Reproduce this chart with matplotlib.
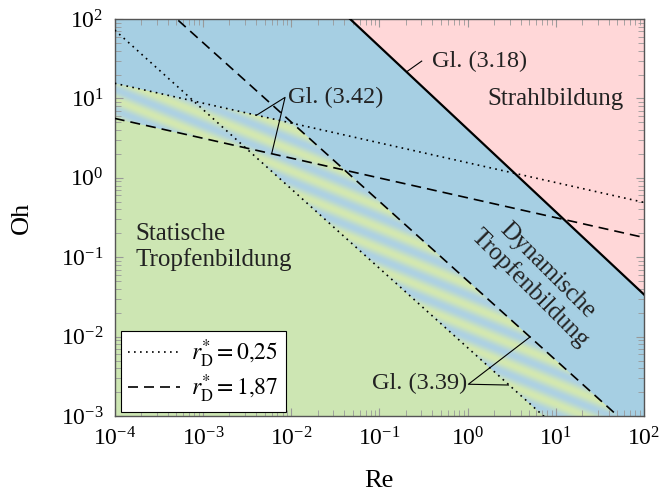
"""Regime map for drop formation: Oh over Re"""

import numpy as np
import matplotlib
matplotlib.use('Agg')
import matplotlib.pyplot as plt
from matplotlib.patches import Polygon
from matplotlib.ticker import LogLocator, NullFormatter

plt.rcParams['font.family'] = ['Liberation Serif', 'DejaVu Serif']
plt.rcParams['mathtext.fontset'] = 'stix'

# boundaries, each a power law through two points (Re, Oh)
re_ends = [1e-4, 1e2]
oh_dotted_flat = [15.5, 0.49]       # r_D* = 0,25, Gl. (3.42)
oh_dashed_flat = [5.6, 0.177]       # r_D* = 1,87, Gl. (3.42)
oh_dotted_steep = [72.6, 7.26e-5]   # r_D* = 0,25, Gl. (3.39)
oh_dashed_steep = [505.0, 5.05e-4]  # r_D* = 1,87, Gl. (3.39)
re_jet = [0.0466, 1e2]              # Gl. (3.18)
oh_jet = [100.0, 0.0339]

legend_labels = [r'$r_{\mathrm{D}}^{*} = 0{,}25$', r'$r_{\mathrm{D}}^{*} = 1{,}87$']

blue = '#a6cfe3'
green = '#cde6b3'
pink = '#ffd7d8'


def power_line(re, re_pts, oh_pts):
	k = np.log10(oh_pts[1] / oh_pts[0]) / np.log10(re_pts[1] / re_pts[0])
	return oh_pts[0] * (re / re_pts[0]) ** k


re = np.logspace(-4, 2, 800)
dot_flat = power_line(re, re_ends, oh_dotted_flat)
dash_flat = power_line(re, re_ends, oh_dashed_flat)
dot_steep = power_line(re, re_ends, oh_dotted_steep)
dash_steep = power_line(re, re_ends, oh_dashed_steep)
jet = power_line(re, re_jet, oh_jet)

lower = np.minimum(dash_flat, dot_steep)
upper = np.minimum(dot_flat, dash_steep)

fig = plt.figure(figsize=(6.62, 4.94), dpi=100)
ax = fig.add_axes([0.1733, 0.1579, 0.7995, 0.8036])

# striped transition zone, drawn in axes pixels and clipped to the band
nx, ny = 530, 397
u, v = np.meshgrid(np.arange(nx), np.arange(ny))
ang = np.deg2rad(22)
phase = (u * np.sin(ang) + v * np.cos(ang)) / 19.5
t = (0.5 + 0.5 * np.cos(2 * np.pi * phase))[..., None]
c_a = np.array([0.83, 0.91, 0.69])
c_b = np.array([0.68, 0.82, 0.89])
img = t * c_a + (1 - t) * c_b
im = ax.imshow(img, extent=[0, 1, 0, 1], transform=ax.transAxes,
	origin='lower', aspect='auto', interpolation='bilinear', zorder=1)

ax.set_xscale('log')
ax.set_yscale('log')

band = Polygon(np.column_stack([np.r_[re, re[::-1]], np.r_[upper, lower[::-1]]]),
	closed=True, transform=ax.transData, facecolor='none', edgecolor='none')
im.set_clip_path(band)

ax.set_facecolor(blue)
ax.fill_between(re, jet, 1e4, color=pink, lw=0, zorder=0.5)
ax.fill_between(re, 1e-6, lower, color=green, lw=0, zorder=0.5)

dotted = (0, (1, 2.6))
dashed = (0, (6, 3.6))
l1, = ax.plot(re, dot_flat, color='black', lw=1.2, ls=dotted, zorder=3)
ax.plot(re, dot_steep, color='black', lw=1.2, ls=dotted, zorder=3)
l2, = ax.plot(re, dash_flat, color='black', lw=1.2, ls=dashed, zorder=3)
ax.plot(re, dash_steep, color='black', lw=1.2, ls=dashed, zorder=3)
ax.plot(re, jet, color='black', lw=1.6, zorder=3)

ax.set_xlim(1e-4, 1e2)
ax.set_ylim(1e-3, 1e2)

# labels in the regions
txt = dict(fontsize=18, color='#222222', zorder=5)
ax.text(10**-3.77, 10**-0.87, 'Statische\nTropfenbildung', ha='left', va='center',
	linespacing=1.15, **txt)
ax.text(10, 10**0.99, 'Strahlbildung', ha='center', va='center', **txt)
ax.text(10**0.8, 10**-1.28, 'Dynamische\nTropfenbildung', ha='center', va='center',
	rotation=-45, multialignment='center', linespacing=1.1, **txt)

gl = dict(fontsize=17.5, color='#222222', zorder=5)
ax.text(10**-0.40, 10**1.47, 'Gl. (3.18)', ha='left', va='center', **gl)
ax.plot([10**-0.52, 10**-0.69], [10**1.47, 10**1.336], color='black', lw=0.8, zorder=4)

ax.text(10**-2.035, 10**1.017, 'Gl. (3.42)', ha='left', va='center', **gl)
ax.plot([10**-2.39, 10**-2.069, 10**-2.22], [10**0.79, 10**1.013, 10**0.307],
	color='black', lw=0.8, zorder=4)

ax.text(10**-0.006, 10**-2.588, 'Gl. (3.39)', ha='right', va='center', **gl)
ax.plot([10**0.709, 10**0.009, 10**0.463], [10**-2.004, 10**-2.6, 10**-2.61],
	color='black', lw=0.8, zorder=4)

leg = ax.legend([l1, l2], legend_labels, loc='lower left', bbox_to_anchor=(0.011, 0.011),
	borderaxespad=0, fontsize=17, fancybox=False, framealpha=1, edgecolor='black',
	handlelength=2.2, handletextpad=0.5, labelspacing=0.1, borderpad=0.3)
leg.get_frame().set_linewidth(0.8)
leg.set_zorder(6)

for axis in (ax.xaxis, ax.yaxis):
	axis.set_major_locator(LogLocator(base=10, numticks=20))
	axis.set_minor_locator(LogLocator(base=10, subs=np.arange(2, 10), numticks=20))
	axis.set_minor_formatter(NullFormatter())

ax.tick_params(which='both', direction='in', top=True, right=True, color='#999999')
ax.tick_params(which='major', length=6, width=0.8, labelsize=17, pad=8)
ax.tick_params(which='minor', length=4, width=0.6)
for s in ax.spines.values():
	s.set_color('#555555')
	s.set_linewidth(1.0)

ax.set_xlabel('Re', fontsize=19)
ax.set_ylabel('Oh', fontsize=19)
ax.xaxis.set_label_coords(0.5, -0.137)
ax.yaxis.set_label_coords(-0.155, 0.5)

plt.savefig('out.png', dpi=100)
